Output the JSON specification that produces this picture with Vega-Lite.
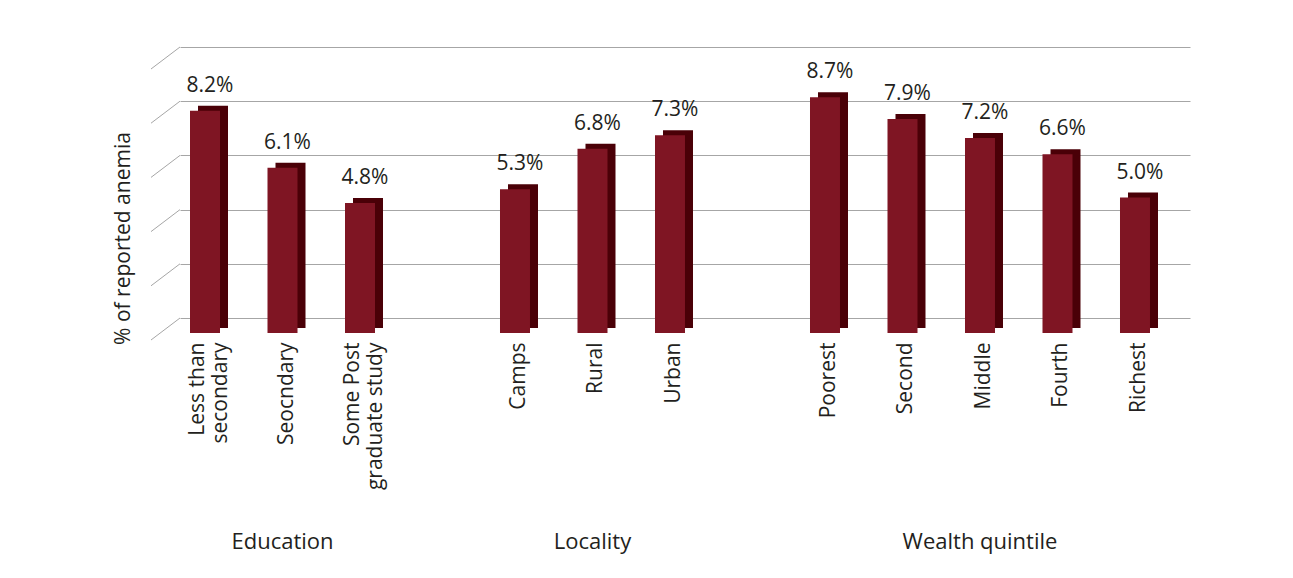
{
  "$schema": "https://vega.github.io/schema/vega-lite/v6.json",
  "autosize": "none",
  "width": 1010,
  "height": 271,
  "padding": {"left": 180, "top": 47, "right": 103, "bottom": 260},
  "background": "white",
  "config": {
    "view": {"stroke": null},
    "font": "Open Sans",
    "text": {"font": "Open Sans", "color": "#231f20"}
  },
  "datasets": {
    "bars": [
      {"cat": "Less than secondary", "group": "Education", "v": 0.082},
      {"cat": "Seocndary", "group": "Education", "v": 0.061},
      {"cat": "Some Post graduate study", "group": "Education", "v": 0.048},
      {"cat": "Camps", "group": "Locality", "v": 0.053},
      {"cat": "Rural", "group": "Locality", "v": 0.068},
      {"cat": "Urban", "group": "Locality", "v": 0.073},
      {"cat": "Poorest", "group": "Wealth quintile", "v": 0.087},
      {"cat": "Second", "group": "Wealth quintile", "v": 0.079},
      {"cat": "Middle", "group": "Wealth quintile", "v": 0.072},
      {"cat": "Fourth", "group": "Wealth quintile", "v": 0.066},
      {"cat": "Richest", "group": "Wealth quintile", "v": 0.050}
    ],
    "grid": [
      {"g": 0}, {"g": 0.02}, {"g": 0.04}, {"g": 0.06}, {"g": 0.08}, {"g": 0.10}
    ],
    "groups": [
      {"cat": "Seocndary", "group": "Education"},
      {"cat": "Rural", "group": "Locality"},
      {"cat": "Middle", "group": "Wealth quintile"}
    ]
  },
  "layer": [
    {
      "data": {"name": "grid"},
      "mark": {"type": "rule", "color": "#a6a6a6", "strokeWidth": 1, "yOffset": 22, "y2Offset": 0},
      "encoding": {
        "x": {"value": -29},
        "x2": {"value": 0},
        "y": {
          "field": "g",
          "type": "quantitative",
          "scale": {"domain": [0, 0.1]},
          "axis": {
            "values": [0, 0.02, 0.04, 0.06, 0.08, 0.1],
            "grid": true,
            "gridColor": "#a6a6a6",
            "gridWidth": 1,
            "labels": false,
            "ticks": false,
            "domain": false,
            "title": "% of reported anemia",
            "titleFont": "Open Sans",
            "titleFontSize": 21,
            "titleFontWeight": "normal",
            "titleColor": "#231f20",
            "titleAngle": -90,
            "titleAlign": "center",
            "titleBaseline": "middle",
            "titleX": -57,
            "titleY": 191
          }
        },
        "y2": {"field": "g"}
      }
    },
    {
      "data": {"name": "bars"},
      "mark": {"type": "bar", "color": "#4a0007", "xOffset": 8, "x2Offset": 8, "yOffset": 10, "y2Offset": 6},
      "encoding": {
        "x": {
          "field": "cat",
          "type": "nominal",
          "sort": null,
          "scale": {
            "domain": ["Less than secondary", "Seocndary", "Some Post graduate study", "gap1", "Camps", "Rural", "Urban", "gap2", "Poorest", "Second", "Middle", "Fourth", "Richest"],
            "paddingInner": 0.6129,
            "paddingOuter": 0.3226,
            "align": 0.2
          },
          "axis": {
            "title": null,
            "domain": false,
            "ticks": false,
            "tickSize": 0,
            "labelAngle": -90,
            "labelAlign": "right",
            "labelBaseline": "middle",
            "labelPadding": 24,
            "labelOffset": {
              "condition": {"test": "datum.value == 'Less than secondary' || datum.value == 'Some Post graduate study'", "value": -7},
              "value": 4
            },
            "labelFont": "Open Sans",
            "labelFontSize": 21,
            "labelLineHeight": 23,
            "labelColor": "#231f20",
            "labelExpr": "datum.label == 'Less than secondary' ? ['Less than', 'secondary'] : datum.label == 'Some Post graduate study' ? ['Some Post', 'graduate study'] : (indexof(datum.label, 'gap') == 0 ? '' : datum.label)"
          }
        },
        "y": {"field": "v", "type": "quantitative"}
      }
    },
    {
      "data": {"name": "bars"},
      "mark": {"type": "bar", "color": "#7f1523", "yOffset": 15, "y2Offset": 11},
      "encoding": {
        "x": {"field": "cat", "type": "nominal", "sort": null},
        "y": {"field": "v", "type": "quantitative"}
      }
    },
    {
      "data": {"name": "bars"},
      "mark": {"type": "text", "fontSize": 21, "baseline": "alphabetic", "align": "center", "dx": 5, "dy": -4},
      "encoding": {
        "x": {"field": "cat", "type": "nominal", "sort": null},
        "y": {"field": "v", "type": "quantitative"},
        "text": {"field": "v", "type": "quantitative", "format": ".1%"}
      }
    },
    {
      "data": {"name": "groups"},
      "mark": {"type": "text", "fontSize": 22, "baseline": "alphabetic", "align": "center", "dy": 231},
      "encoding": {
        "x": {"field": "cat", "type": "nominal", "sort": null},
        "y": {"datum": 0, "type": "quantitative"},
        "text": {"field": "group"}
      }
    }
  ],
  "resolve": {"scale": {"x": "shared", "y": "shared"}}
}
